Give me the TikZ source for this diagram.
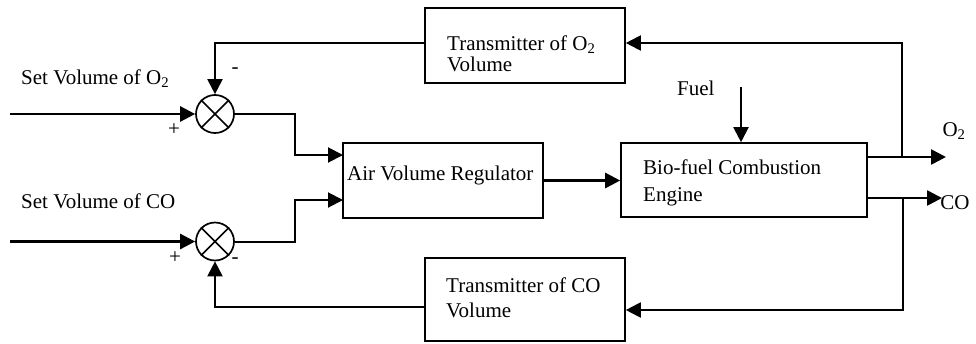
\documentclass[tikz,border=0pt]{standalone}
\usepackage{fontspec}
\setmainfont{Liberation Serif}
\usetikzlibrary{arrows.meta}
\begin{document}
\begin{tikzpicture}[x=1pt,y=-1pt,
  font=\fontsize{21}{21}\selectfont,
  box/.style={draw, line width=1.6pt, rectangle, inner sep=0},
  txt/.style={anchor=base west, inner sep=0},
  lbl/.style={anchor=center, inner sep=0},
  sumc/.style={draw, circle, line width=1.7pt, minimum size=38pt, inner sep=0},
  arr/.style={-{Triangle[length=15pt,width=15pt]}},
  thk/.style={line width=2.6pt},
  mid/.style={line width=2pt}]
\useasboundingbox (0,0) rectangle (976,343);

% boxes
\node[box, minimum width=200pt, minimum height=75pt] (t1) at (525,45.5) {};
\node[box, minimum width=200pt, minimum height=75pt] (avr) at (443,180.5) {};
\node[box, minimum width=246pt, minimum height=74pt] (bio) at (744,180) {};
\node[box, minimum width=200pt, minimum height=83pt] (t2) at (525,299.5) {};

% summing junctions
\node[sumc] (s1) at (215,114) {};
\node[sumc] (s2) at (215,241.5) {};
\draw[line width=1.7pt] (s1.north east) -- (s1.south west) (s1.north west) -- (s1.south east);
\draw[line width=1.7pt] (s2.north east) -- (s2.south west) (s2.north west) -- (s2.south east);

% texts
\node[txt] (t1a) at (447,50) {Transmitter of O\textsubscript{2}};
\node[txt] (t1b) at (447,71) {Volume};
\node[txt] (avrt) at (347,180) {Air Volume Regulator};
\node[txt] (bioa) at (643,174) {Bio-fuel Combustion};
\node[txt] (biob) at (643,201) {Engine};
\node[txt] (t2a) at (446,292) {Transmitter of CO};
\node[txt] (t2b) at (446,317) {Volume};
\node[txt] (fuel) at (677,95) {Fuel};
\node[txt] (sv1) at (21,84) {Set Volume of O\textsubscript{2}};
\node[txt] (sv2) at (21,208) {Set Volume of CO};
\node[lbl] (p1) at (174,130) {+};
\node[lbl] (m1) at (235,71) {-};
\node[lbl] (p2) at (175,258) {+};
\node[lbl] (m2) at (235,261) {-};
\node[lbl] (o2l) at (954,131) {O\textsubscript{2}};
\node[lbl] (col) at (955,203) {CO};

% coordinates
\coordinate (in1) at (10,114);
\coordinate (in2) at (10,241.5);
\coordinate (j1) at (295,114);
\coordinate (j2) at (295,241.5);
\coordinate (a1) at (343,155);
\coordinate (a2) at (343,200);
\coordinate (f0) at (741,87);
\coordinate (b1) at (867,157);
\coordinate (b2) at (867,198);
\coordinate (o2t) at (946,157);
\coordinate (cot) at (942,198);
\coordinate (fb1) at (902,157);
\coordinate (fb2) at (903,198);

% connectors
\draw[thk, arr] (in1) -- (s1);
\draw[thk, arr] (in2) -- (s2);
\draw[mid, arr] (s1.east) -- (j1) |- (a1);
\draw[mid, arr] (s2.east) -- (j2) |- (a2);
\draw[thk, arr] (avr.east) -- (avr.east -| bio.west);
\draw[mid, arr] (f0) -- (f0 |- bio.north);
\draw[thk, arr] (b1) -- (o2t);
\draw[thk, arr] (b2) -- (cot);
\draw[mid, arr] (fb1) |- ([yshift=2.5pt]t1.east);
\draw[mid, arr] ([yshift=2.5pt]t1.west) -| (s1.north);
\draw[mid, arr] (fb2) |- ([yshift=-10.5pt]t2.east);
\draw[mid, arr] ([yshift=-7.5pt]t2.west) -| (s2.south);
\end{tikzpicture}
\end{document}
